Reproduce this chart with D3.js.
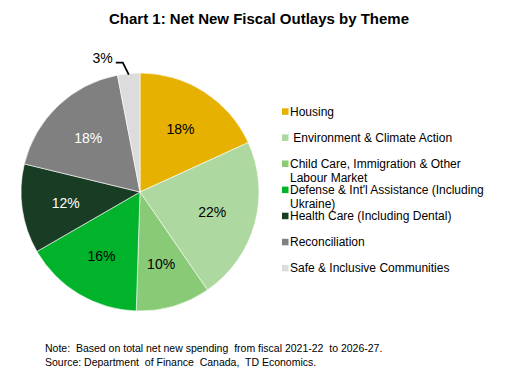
<!DOCTYPE html>
<html><head><meta charset="utf-8">
<script src="https://cdn.jsdelivr.net/npm/d3@7"></script>
<style>body{margin:0;background:#fff;}svg{display:block;font-family:"Liberation Sans",Arial,sans-serif;}</style>
</head><body><svg id="c" width="517" height="385"></svg>
<script>
const categories = ["Housing", " Environment & Climate Action", "Child Care, Immigration & Other|Labour Market", "Defense & Int'l Assistance (Including|Ukraine)", "Health Care (Including Dental)", "Reconciliation", "Safe & Inclusive Communities"];
const values = [18, 22, 10, 16, 12, 18, 3];
const colors = ["#E6B100", "#ADD89F", "#88CA75", "#00B32A", "#183C24", "#808080", "#DCDCDE"];
const labelColors = ["#000", "#000", "#000", "#000", "#fff", "#fff", "#000"];
const title = "Chart 1: Net New Fiscal Outlays by Theme";
const notes = ["Note:  Based on total net new spending  from fiscal 2021-22  to 2026-27.", "Source: Department  of Finance  Canada,  TD Economics."];

const svg = d3.select("#c");
svg.append("text").attr("x", 259).attr("y", 24).attr("text-anchor", "middle")
  .attr("font-size", 15).attr("font-weight", "bold").attr("fill", "#000").text(title);

const cx = 140, cy = 192, r = 119;
const pie = d3.pie().sort(null).value(d => d)(values);
const arc = d3.arc().innerRadius(0).outerRadius(r);
const labelArc = d3.arc().innerRadius(75).outerRadius(75);
const g = svg.append("g").attr("transform", `translate(${cx},${cy})`);
g.selectAll("path").data(pie).join("path").attr("d", arc)
  .attr("fill", (d, i) => colors[i]).attr("stroke", "#fff").attr("stroke-width", 0.6);
g.selectAll("text.lbl").data(pie.slice(0, 6)).join("text").attr("class", "lbl")
  .attr("transform", d => `translate(${labelArc.centroid(d)})`)
  .attr("text-anchor", "middle").attr("dy", "0.35em").attr("font-size", 14)
  .attr("fill", (d, i) => labelColors[i]).text(d => d.data + "%");

// small slice callout
const small = pie[6];
const mid = (small.startAngle + small.endAngle) / 2;
const p0 = [Math.sin(mid) * (r - 1), -Math.cos(mid) * (r - 1)];
const p1 = [p0[0] - 6, p0[1] - 12];
const p2 = [p1[0] - 7, p1[1]];
g.append("path").attr("d", d3.line()([p0, p1, p2])).attr("fill", "none")
  .attr("stroke", "#000").attr("stroke-width", 1.8);
g.append("text").attr("x", p2[0] - 3).attr("y", p2[1]).attr("dy", "0.0em")
  .attr("text-anchor", "end").attr("font-size", 14).text(small.data + "%");

// legend
const lg = svg.append("g");
categories.forEach((c, i) => {
  const y = 111.5 + 26.1 * i;
  lg.append("rect").attr("x", 282).attr("y", y - 3.2).attr("width", 6.5).attr("height", 6.5).attr("fill", colors[i]);
  const lines = c.split("|");
  lines.forEach((t, j) => {
    lg.append("text").attr("x", 290).attr("y", y + j * 13.8).attr("dy", "0.35em")
      .attr("font-size", 12).attr("fill", "#000").style("white-space", "pre").text(t);
  });
});

notes.forEach((t, i) => {
  svg.append("text").attr("x", 45).attr("y", 352 + i * 14).attr("font-size", 10.5)
    .attr("fill", "#000").style("white-space", "pre").text(t);
});
</script></body></html>
